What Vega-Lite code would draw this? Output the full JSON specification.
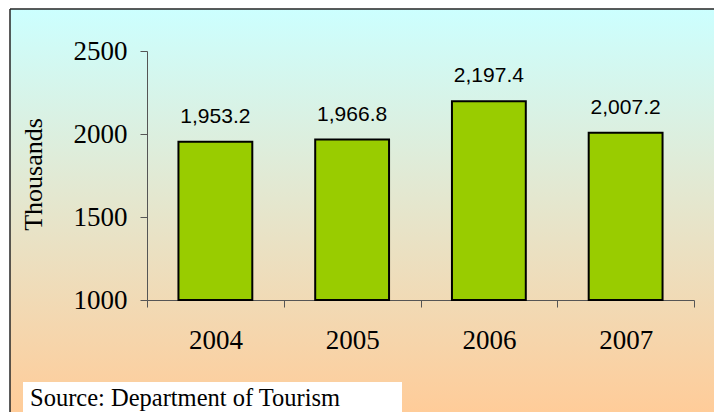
{
  "$schema": "https://vega.github.io/schema/vega-lite/v6.json",
  "width": 704,
  "height": 403,
  "autosize": {"type": "none"},
  "padding": {"left": 10, "top": 9, "right": 0, "bottom": 0},
  "background": "white",
  "config": {
    "view": {
      "fill": {
        "gradient": "linear",
        "x1": 0, "y1": 0, "x2": 0, "y2": 1,
        "stops": [
          {"offset": 0, "color": "#ccffff"},
          {"offset": 1, "color": "#ffcc99"}
        ]
      },
      "stroke": "#262626",
      "strokeWidth": 1.5,
      "strokeDash": [704, 1107, 403, 0]
    },
    "axis": {
      "grid": false,
      "domainColor": "#555555",
      "domainWidth": 1,
      "tickColor": "#555555",
      "tickWidth": 1,
      "tickSize": 7,
      "labelFont": "Liberation Serif",
      "labelFontSize": 27,
      "labelColor": "black",
      "titleFont": "Liberation Serif",
      "titleFontWeight": "normal",
      "titleColor": "black"
    }
  },
  "layer": [
    {
      "data": {"name": "arrivals", "values": [
        {"year": "2004", "value": 1953.2},
        {"year": "2005", "value": 1966.8},
        {"year": "2006", "value": 2197.4},
        {"year": "2007", "value": 2007.2}
      ]},
      "layer": [
        {
          "mark": {"type": "bar", "fill": "#99cc00", "stroke": "black", "strokeWidth": 2, "width": {"band": 0.54}},
          "encoding": {
            "x": {
              "field": "year", "type": "ordinal",
              "scale": {"range": [137, 684], "paddingInner": 0, "paddingOuter": 0},
              "axis": {"title": null, "orient": "bottom", "offset": -112, "tickBand": "extent", "labelAngle": 0, "labelPadding": 20}
            },
            "y": {
              "field": "value", "type": "quantitative",
              "scale": {"domain": [1000, 2500], "range": [291, 42], "nice": false, "zero": false},
              "axis": {
                "title": "Thousands", "orient": "left", "offset": -137,
                "values": [1000, 1500, 2000, 2500], "format": "d",
                "labelPadding": 13,
                "titleFontSize": 26, "titleAngle": 270, "titleBaseline": "alphabetic",
                "titleX": -106, "titleY": 165
              }
            },
            "y2": {"datum": 1000}
          }
        },
        {
          "mark": {"type": "text", "align": "center", "baseline": "alphabetic", "dy": -19, "font": "Liberation Sans", "fontSize": 21, "fill": "black"},
          "encoding": {
            "x": {"field": "year", "type": "ordinal"},
            "y": {"field": "value", "type": "quantitative"},
            "text": {"field": "value", "type": "quantitative", "format": ",.1f"}
          }
        }
      ]
    },
    {
      "data": {"name": "note", "values": [{"source": "Source: Department of Tourism"}]},
      "layer": [
        {
          "mark": {"type": "rect", "fill": "white"},
          "encoding": {
            "x": {"value": 13}, "x2": {"value": 392},
            "y": {"value": 373}, "y2": {"value": 410}
          }
        },
        {
          "mark": {"type": "text", "align": "left", "baseline": "alphabetic", "font": "Liberation Serif", "fontSize": 24.5, "fill": "black"},
          "encoding": {
            "x": {"value": 20},
            "y": {"value": 397},
            "text": {"field": "source", "type": "nominal"}
          }
        }
      ]
    }
  ]
}
